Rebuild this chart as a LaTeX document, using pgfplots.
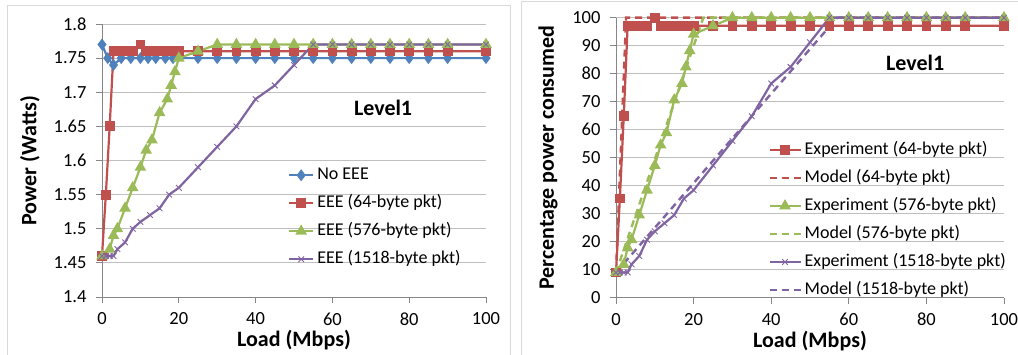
\documentclass[border=0pt]{standalone}
\usepackage{fontspec}
\setmainfont{Carlito}
\usepackage{pgfplots}
\pgfplotsset{compat=1.18}
\definecolor{cblue}{HTML}{4F81BD}
\definecolor{cred}{HTML}{C0504D}
\definecolor{cgreen}{HTML}{9BBB59}
\definecolor{cpurple}{HTML}{8064A2}
\definecolor{gridc}{HTML}{BFBFBF}
\definecolor{axc}{HTML}{868686}
\definecolor{framec}{HTML}{D9D9D9}

\pgfplotsset{
 excel/.style={
  scale only axis, clip=false,
  axis x line*=bottom, axis y line*=left,
  axis line style={axc, line width=0.8pt},
  major tick style={axc, line width=0.8pt},
  tick align=outside, major tick length=6pt,
  ymajorgrids, grid style={gridc, line width=0.9pt},
  xmin=0, xmax=100, xtick={0,20,40,60,80,100},
  tick label style={font=\fontsize{18.5}{20}\selectfont},
  /pgf/number format/assume math mode=true,
  label style={font=\bfseries\fontsize{22}{24}\selectfont},
  xticklabel shift=6pt, yticklabel shift=6pt,
  legend style={draw=none, fill=none, font=\fontsize{18}{20}\selectfont,
    inner sep=0pt, row sep=12.5pt, column sep=3pt,
    nodes={inner sep=0pt, text height=12pt, text depth=3.5pt}},
  legend cell align=left,
 },
 expline/.style={line width=2.2pt},
}

\begin{document}
\begin{tikzpicture}
\path[use as bounding box] (0pt,0pt) rectangle (1018pt,355pt);
\draw[framec, line width=0.8pt] (7pt,-5pt) -- (7pt,350pt) -- (510pt,350pt) -- (510pt,-5pt);
\draw[framec, line width=0.8pt] (521pt,-5pt) -- (521pt,354pt) -- (1025pt,354pt);

% ---------------- Left chart ----------------
\begin{axis}[excel,
  at={(102pt,58pt)}, anchor=south west,
  width=384pt, height=273pt,
  ymin=1.4, ymax=1.8,
  ytick={1.4,1.45,1.5,1.55,1.6,1.65,1.7,1.75,1.8},
  yticklabels={1.4,1.45,1.5,1.55,1.6,1.65,1.7,1.75,1.8},
  xlabel={Load (Mbps)}, ylabel={Power (Watts)},
  xlabel style={at={(axis description cs:0.5,0)}, anchor=center, yshift=-43pt},
  ylabel style={at={(axis description cs:-0.1875,0.5)}, anchor=center},
  legend image code/.code={\draw[mark repeat=2,mark phase=2,#1] plot coordinates {(0pt,0pt) (12pt,0pt) (24pt,0pt)};},
  legend style={at={(axis description cs:0.484,0.475)}, anchor=north west},
]
\addplot[cblue, expline, mark=diamond*, mark size=4.2pt, mark options={solid}] coordinates {
 (0,1.77) (1.5,1.75) (3,1.74) (5,1.75) (7.5,1.75) (10,1.75) (12,1.75) (14,1.75) (16.5,1.75) (18.5,1.75)
 (25,1.75) (30,1.75) (35,1.75) (40,1.75) (45,1.75) (50,1.75) (55,1.75) (60,1.75) (65,1.75) (70,1.75)
 (75,1.75) (80,1.75) (85,1.75) (90,1.75) (100,1.75)};
\addlegendentry{No EEE}
\addplot[cred, expline, mark=square*, mark size=3.8pt] coordinates {
 (0,1.46) (1,1.55) (2,1.65) (3,1.76) (4,1.76) (5.5,1.76) (7,1.76) (8,1.76) (10,1.77) (11.5,1.76)
 (13,1.76) (14.5,1.76) (16,1.76) (17,1.76) (18.5,1.76) (20,1.76)
 (25,1.76) (30,1.76) (35,1.76) (40,1.76) (45,1.76) (50,1.76) (55,1.76) (60,1.76) (65,1.76) (70,1.76)
 (75,1.76) (80,1.76) (85,1.76) (90,1.76) (100,1.76)};
\addlegendentry{EEE (64-byte pkt)}
\addplot[cgreen, expline, mark=triangle*, mark size=4.6pt] coordinates {
 (0,1.46) (2,1.47) (3,1.49) (4,1.50) (6,1.53) (8,1.56) (10,1.59) (11.5,1.615) (13,1.63) (15,1.67)
 (17,1.69) (18,1.71) (19,1.73) (20,1.75)
 (25,1.76) (30,1.77) (35,1.77) (40,1.77) (45,1.77) (50,1.77) (55,1.77) (60,1.77) (65,1.77) (70,1.77)
 (75,1.77) (80,1.77) (85,1.77) (90,1.77) (100,1.77)};
\addlegendentry{EEE (576-byte pkt)}
\addplot[cpurple, expline, mark=x, mark size=4pt, mark options={line width=0.9pt}] coordinates {
 (0,1.46) (1,1.46) (2,1.46) (3,1.46) (4,1.47) (6,1.48) (8,1.50) (10,1.51) (12.5,1.52) (15,1.53)
 (17.5,1.55) (20,1.56) (25,1.59) (30,1.62) (35,1.65) (40,1.69) (45,1.71) (50,1.74) (55,1.77)
 (60,1.77) (65,1.77) (70,1.77) (75,1.77) (80,1.77) (85,1.77) (90,1.77) (100,1.77)};
\addlegendentry{EEE (1518-byte pkt)}
\node[font=\bfseries\fontsize{22}{24}\selectfont] at (axis cs:73.2,1.677) {Level1};
\end{axis}

% ---------------- Right chart ----------------
\begin{axis}[excel,
  at={(616pt,57.3pt)}, anchor=south west,
  width=388pt, height=280pt,
  ymin=0, ymax=100,
  ytick={0,10,20,30,40,50,60,70,80,90,100},
  xlabel={Load (Mbps)}, ylabel={Percentage power consumed},
  xlabel style={at={(axis description cs:0.5,0)}, anchor=center, yshift=-43pt},
  ylabel style={at={(axis description cs:-0.175,0.5)}, anchor=center},
  legend image code/.code={\draw[mark repeat=2,mark phase=2,#1] plot coordinates {(0pt,0pt) (15.5pt,0pt) (31pt,0pt)};},
  legend style={at={(axis description cs:0.392,0.556)}, anchor=north west},
]
\addplot[cred, expline, mark=square*, mark size=3.8pt] coordinates {
 (0,9) (1,35.4) (2,64.8) (3,97.1) (4,97.1) (5.5,97.1) (7,97.1) (8,97.1) (10,100) (11.5,97.1)
 (13,97.1) (14.5,97.1) (16,97.1) (17,97.1) (18.5,97.1) (20,97.1)
 (25,97.1) (30,97.1) (35,97.1) (40,97.1) (45,97.1) (50,97.1) (55,97.1) (60,97.1) (65,97.1) (70,97.1)
 (75,97.1) (80,97.1) (85,97.1) (90,97.1) (100,97.1)};
\addlegendentry{Experiment (64-byte pkt)}
\addplot[cred, line width=2.4pt, dash pattern=on 7pt off 5pt] coordinates {
 (0,9) (2.6,100) (100,100)};
\addlegendentry{Model (64-byte pkt)}
\addplot[cgreen, expline, mark=triangle*, mark size=4.6pt] coordinates {
 (0,9) (2,11.9) (3,17.8) (4,20.7) (6,29.5) (8,38.4) (10,47.2) (11.5,54.5) (13,58.9) (15,70.6)
 (17,76.5) (18,82.4) (19,88.2) (20,94.1)
 (25,97.1) (30,100) (35,100) (40,100) (45,100) (50,100) (55,100) (60,100) (65,100) (70,100)
 (75,100) (80,100) (85,100) (90,100) (100,100)};
\addlegendentry{Experiment (576-byte pkt)}
\addplot[cgreen, line width=2.4pt, dash pattern=on 7pt off 5pt] coordinates {
 (0,9) (22.5,100) (100,100)};
\addlegendentry{Model (576-byte pkt)}
\addplot[cpurple, expline, mark=x, mark size=4pt, mark options={line width=0.9pt}] coordinates {
 (0,9) (1,9) (2,9) (3,9) (4,11.9) (6,14.9) (8,20.7) (10,23.7) (12.5,26.6) (15,29.5)
 (17.5,35.4) (20,38.4) (25,47.2) (30,56) (35,64.8) (40,76.5) (45,82.4) (50,91.2) (55,100)
 (60,100) (65,100) (70,100) (75,100) (80,100) (85,100) (90,100) (100,100)};
\addlegendentry{Experiment (1518-byte pkt)}
\addplot[cpurple, line width=2.4pt, dash pattern=on 7pt off 5pt] coordinates {
 (0,9) (57,100) (100,100)};
\addlegendentry{Model (1518-byte pkt)}
\node[font=\bfseries\fontsize{22}{24}\selectfont] at (axis cs:77.1,83.8) {Level1};
\end{axis}
\end{tikzpicture}
\end{document}
